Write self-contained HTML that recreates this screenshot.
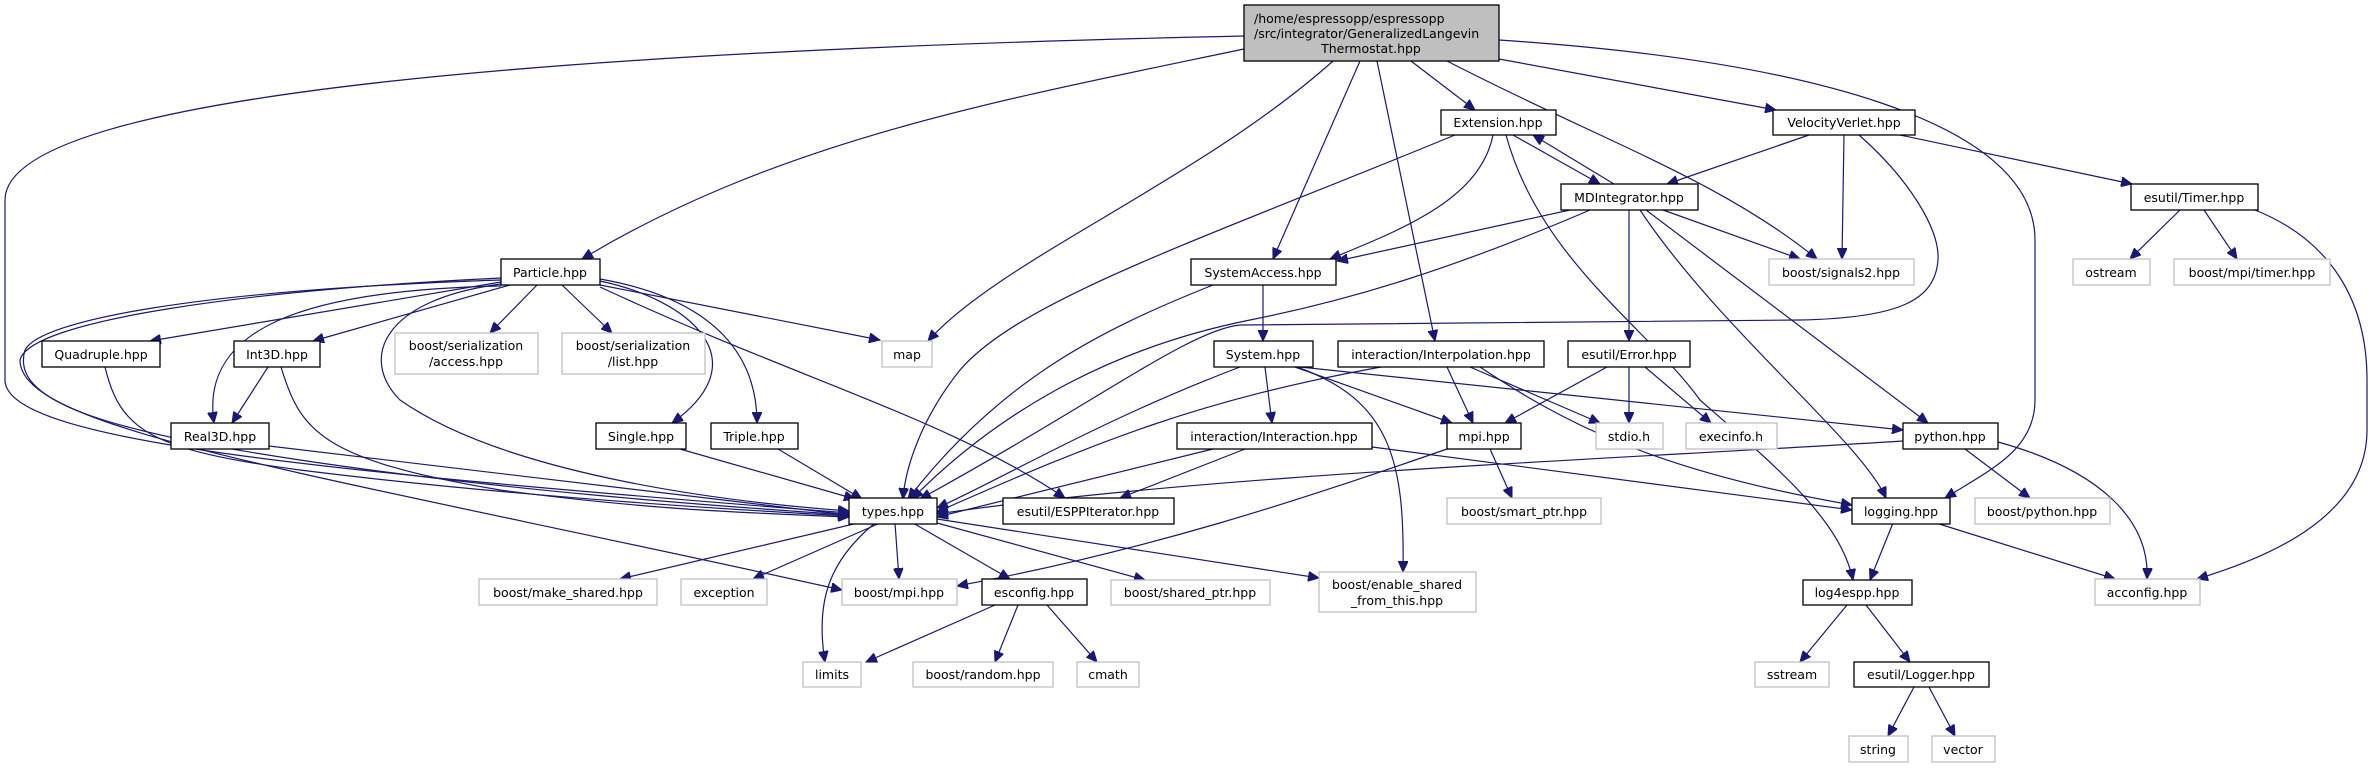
<!DOCTYPE html>
<html><head><meta charset="utf-8"><style>
html,body{margin:0;padding:0;background:#fff;}
svg{display:block;}
text{font-family:"DejaVu Sans","Liberation Sans",sans-serif;font-size:12.5px;fill:#000;text-anchor:middle;}
.e{fill:none;stroke:#191970;stroke-width:1.2;marker-end:url(#a);}
.n{fill:#fff;stroke:#000;stroke-width:1.3;}
.x{fill:#fff;stroke:#bfbfbf;stroke-width:1.3;}
</style></head><body>
<svg width="2373" height="768" viewBox="0 0 2373 768" xmlns="http://www.w3.org/2000/svg">
<defs><marker id="a" markerUnits="userSpaceOnUse" markerWidth="12" markerHeight="10" refX="11" refY="5" orient="auto"><path d="M0,0 L11,5 L0,10 z" fill="#191970" stroke="#191970"/></marker></defs>

<!-- edges from main -->
<path class="e" d="M1244,36 C600,50 5,90 5,200 L5,380 C5,440 300,470 849,513"/>
<path class="e" d="M1244,49 C1000,100 780,140 582,259"/>
<path class="e" d="M1333,61 C1200,180 1000,260 928,341"/>
<path class="e" d="M1360,61 L1273,259"/>
<path class="e" d="M1377,61 L1435,341"/>
<path class="e" d="M1411,61 L1475,110"/>
<path class="e" d="M1499,59 L1776,110"/>
<path class="e" d="M1447,61 C1600,140 1720,180 1817,259"/>
<path class="e" d="M1499,40 C1800,60 2035,120 2035,240 L2035,400 C2035,450 1990,470 1945,498"/>
<!-- Extension -->
<path class="e" d="M1513,135 L1600,184"/>
<path class="e" d="M1614,184 L1533,135"/>
<path class="e" d="M1493,135 C1480,200 1400,230 1330,259"/>
<path class="e" d="M1455,135 C1200,240 1020,300 960,370 C920,420 905,470 903,499"/>
<path class="e" d="M1506,135 C1540,260 1650,330 1700,400 C1780,470 1840,520 1853,580"/>
<!-- MDIntegrator -->
<path class="e" d="M1570,210 L1337,261"/>
<path class="e" d="M1590,210 C1450,270 1350,300 1250,320 C1100,350 990,420 912,499"/>
<path class="e" d="M1663,210 L1800,259"/>
<path class="e" d="M1629,210 L1629,341"/>
<path class="e" d="M1640,210 C1720,330 1860,440 1886,498"/>
<path class="e" d="M1646,210 L1928,423"/>
<!-- VelocityVerlet -->
<path class="e" d="M1809,135 L1667,184"/>
<path class="e" d="M1844,135 L1842,259"/>
<path class="e" d="M1859,135 C1910,180 1940,230 1938,260 C1935,300 1900,318 1800,320 L1240,325 C1190,330 1100,400 920,499"/>
<path class="e" d="M1900,135 L2132,184"/>
<!-- Timer -->
<path class="e" d="M2180,210 L2130,259"/>
<path class="e" d="M2204,210 L2237,259"/>
<path class="e" d="M2255,210 C2330,240 2367,300 2367,380 L2367,430 C2367,520 2260,560 2197,579"/>
<!-- SystemAccess -->
<path class="e" d="M1263,285 L1263,341"/>
<path class="e" d="M1213,285 C1100,330 1000,380 908,499"/>
<!-- System -->
<path class="e" d="M1265,367 L1272,423"/>
<path class="e" d="M1295,367 L1452,423"/>
<path class="e" d="M1300,367 L1903,430"/>
<path class="e" d="M1297,367 C1390,400 1405,460 1403,572"/>
<path class="e" d="M1240,367 C1100,420 1000,480 937,508"/>
<!-- Interpolation -->
<path class="e" d="M1381,367 C1200,400 1100,440 937,512"/>
<path class="e" d="M1447,367 L1473,423"/>
<path class="e" d="M1470,367 L1600,423"/>
<path class="e" d="M1480,367 C1560,420 1650,470 1852,505"/>
<!-- Interaction -->
<path class="e" d="M1213,449 L937,517"/>
<path class="e" d="M1245,449 L1120,498"/>
<path class="e" d="M1372,447 L1852,510"/>
<!-- Error -->
<path class="e" d="M1607,367 L1505,423"/>
<path class="e" d="M1629,367 L1629,423"/>
<path class="e" d="M1645,367 L1711,423"/>
<!-- python -->
<path class="e" d="M1903,441 C1600,460 1200,475 937,514"/>
<path class="e" d="M1965,449 L2030,498"/>
<path class="e" d="M1998,442 C2100,470 2150,520 2147,579"/>
<!-- mpi -->
<path class="e" d="M1490,449 L1512,498"/>
<path class="e" d="M1447,449 C1300,500 1150,550 957,586"/>
<!-- logging -->
<path class="e" d="M1893,523 L1870,580"/>
<path class="e" d="M1936,523 L2115,579"/>
<!-- log4espp -->
<path class="e" d="M1847,605 L1800,662"/>
<path class="e" d="M1866,605 L1910,662"/>
<path class="e" d="M1914,687 L1888,736"/>
<path class="e" d="M1929,687 L1955,736"/>
<!-- types -->
<path class="e" d="M858,523 L620,579"/>
<path class="e" d="M880,523 L753,579"/>
<path class="e" d="M895,523 L899,579"/>
<path class="e" d="M913,523 L1010,579"/>
<path class="e" d="M875,523 C830,560 815,600 825,662"/>
<path class="e" d="M937,523 L1145,580"/>
<path class="e" d="M937,519 L1319,578"/>
<!-- esconfig -->
<path class="e" d="M995,605 L866,662"/>
<path class="e" d="M1018,605 L995,662"/>
<path class="e" d="M1047,605 L1097,662"/>
<!-- Particle -->
<path class="e" d="M501,282 L150,341"/>
<path class="e" d="M510,285 L313,341"/>
<path class="e" d="M537,285 L490,333"/>
<path class="e" d="M562,285 L612,333"/>
<path class="e" d="M600,285 L880,340"/>
<path class="e" d="M600,281 C690,300 760,360 672,423"/>
<path class="e" d="M600,279 C720,300 757,360 757,423"/>
<path class="e" d="M600,287 C800,380 950,420 1065,498"/>
<path class="e" d="M501,286 C300,290 200,330 214,423"/>
<path class="e" d="M501,280 C200,290 40,320 25,350 C10,400 100,430 300,460 C500,490 700,505 849,515"/>
<path class="e" d="M501,284 C380,300 360,360 400,400 C500,470 700,500 849,511"/>
<path class="e" d="M501,278 C250,290 30,320 20,360 C20,430 300,470 842,590"/>
<!-- Quadruple, Int3D, Real3D, Single, Triple -->
<path class="e" d="M105,367 C120,430 150,450 300,470 C500,495 700,508 849,516"/>
<path class="e" d="M268,367 L232,423"/>
<path class="e" d="M281,367 C300,430 320,460 500,490 C650,510 750,513 849,517"/>
<path class="e" d="M269,446 L849,515"/>
<path class="e" d="M680,449 L855,499"/>
<path class="e" d="M778,449 L862,499"/>

<!-- nodes -->
<rect x="1244" y="5" width="255" height="56" fill="#bfbfbf" stroke="#000" stroke-width="1.3"/>
<text x="1254" y="23" style="text-anchor:start">/home/espressopp/espressopp</text>
<text x="1254" y="38" style="text-anchor:start">/src/integrator/GeneralizedLangevin</text>
<text x="1371" y="53">Thermostat.hpp</text>

<rect class="n" x="1441" y="110" width="115" height="25"/><text x="1498" y="127">Extension.hpp</text>
<rect class="n" x="1773" y="110" width="142" height="25"/><text x="1844" y="127">VelocityVerlet.hpp</text>
<rect class="n" x="1561" y="184" width="137" height="26"/><text x="1629" y="202">MDIntegrator.hpp</text>
<rect class="n" x="2131" y="184" width="127" height="26"/><text x="2194" y="202">esutil/Timer.hpp</text>
<rect class="x" x="1769" y="259" width="145" height="26"/><text x="1841" y="277">boost/signals2.hpp</text>
<rect class="x" x="2073" y="259" width="77" height="26"/><text x="2111" y="277">ostream</text>
<rect class="x" x="2174" y="259" width="156" height="26"/><text x="2252" y="277">boost/mpi/timer.hpp</text>
<rect class="n" x="1191" y="259" width="145" height="26"/><text x="1263" y="277">SystemAccess.hpp</text>
<rect class="n" x="501" y="259" width="99" height="26"/><text x="550" y="277">Particle.hpp</text>

<rect class="n" x="42" y="341" width="118" height="26"/><text x="101" y="359">Quadruple.hpp</text>
<rect class="n" x="234" y="341" width="86" height="26"/><text x="277" y="359">Int3D.hpp</text>
<rect class="x" x="395" y="333" width="143" height="41"/><text x="466" y="350">boost/serialization</text><text x="466" y="366">/access.hpp</text>
<rect class="x" x="562" y="333" width="143" height="41"/><text x="633" y="350">boost/serialization</text><text x="633" y="366">/list.hpp</text>
<rect class="x" x="882" y="341" width="50" height="26"/><text x="907" y="359">map</text>
<rect class="n" x="1214" y="341" width="99" height="26"/><text x="1263" y="359">System.hpp</text>
<rect class="n" x="1338" y="341" width="206" height="26"/><text x="1441" y="359">interaction/Interpolation.hpp</text>
<rect class="n" x="1568" y="341" width="122" height="26"/><text x="1629" y="359">esutil/Error.hpp</text>

<rect class="n" x="171" y="423" width="98" height="26"/><text x="220" y="441">Real3D.hpp</text>
<rect class="n" x="596" y="423" width="90" height="26"/><text x="641" y="441">Single.hpp</text>
<rect class="n" x="711" y="423" width="87" height="26"/><text x="754" y="441">Triple.hpp</text>
<rect class="n" x="1177" y="423" width="195" height="26"/><text x="1274" y="441">interaction/Interaction.hpp</text>
<rect class="n" x="1447" y="423" width="74" height="26"/><text x="1484" y="441">mpi.hpp</text>
<rect class="x" x="1596" y="423" width="67" height="26"/><text x="1629" y="441">stdio.h</text>
<rect class="x" x="1686" y="423" width="91" height="26"/><text x="1731" y="441">execinfo.h</text>
<rect class="n" x="1903" y="423" width="95" height="26"/><text x="1950" y="441">python.hpp</text>

<rect class="n" x="849" y="498" width="88" height="26"/><text x="893" y="516">types.hpp</text>
<rect class="n" x="1003" y="498" width="171" height="26"/><text x="1088" y="516">esutil/ESPPIterator.hpp</text>
<rect class="x" x="1447" y="498" width="154" height="26"/><text x="1524" y="516">boost/smart_ptr.hpp</text>
<rect class="n" x="1852" y="498" width="98" height="26"/><text x="1901" y="516">logging.hpp</text>
<rect class="x" x="1975" y="498" width="135" height="26"/><text x="2042" y="516">boost/python.hpp</text>

<rect class="x" x="479" y="579" width="178" height="26"/><text x="568" y="597">boost/make_shared.hpp</text>
<rect class="x" x="681" y="579" width="86" height="26"/><text x="724" y="597">exception</text>
<rect class="x" x="842" y="579" width="115" height="26"/><text x="899" y="597">boost/mpi.hpp</text>
<rect class="n" x="982" y="579" width="105" height="26"/><text x="1034" y="597">esconfig.hpp</text>
<rect class="x" x="1111" y="580" width="159" height="25"/><text x="1190" y="597">boost/shared_ptr.hpp</text>
<rect class="x" x="1319" y="572" width="157" height="40"/><text x="1397" y="589">boost/enable_shared</text><text x="1397" y="605">_from_this.hpp</text>
<rect class="n" x="1803" y="580" width="109" height="25"/><text x="1857" y="597">log4espp.hpp</text>
<rect class="x" x="2095" y="579" width="105" height="26"/><text x="2147" y="597">acconfig.hpp</text>

<rect class="x" x="803" y="662" width="58" height="25"/><text x="832" y="679">limits</text>
<rect class="x" x="913" y="662" width="140" height="25"/><text x="983" y="679">boost/random.hpp</text>
<rect class="x" x="1077" y="662" width="62" height="25"/><text x="1108" y="679">cmath</text>
<rect class="x" x="1755" y="662" width="74" height="25"/><text x="1792" y="679">sstream</text>
<rect class="n" x="1854" y="662" width="135" height="25"/><text x="1921" y="679">esutil/Logger.hpp</text>
<rect class="x" x="1849" y="736" width="59" height="26"/><text x="1878" y="754">string</text>
<rect class="x" x="1932" y="736" width="63" height="26"/><text x="1963" y="754">vector</text>
</svg>
</body></html>
